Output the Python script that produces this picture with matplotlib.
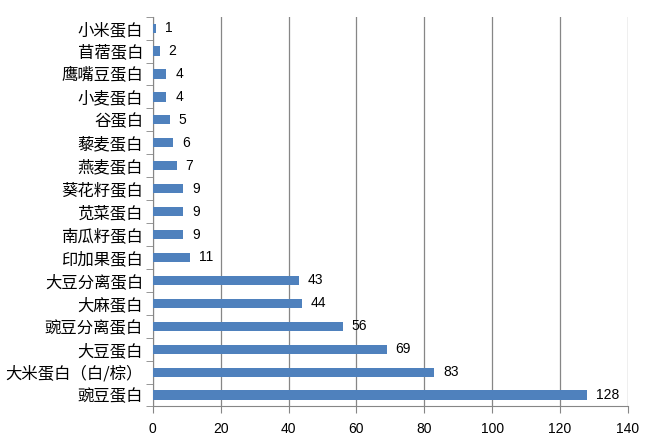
import matplotlib
matplotlib.use("Agg")
import matplotlib.pyplot as plt
import numpy as np

plt.rcParams['font.family'] = ['Noto Sans CJK SC', 'DejaVu Sans']

proteins = ["小米蛋白", "苜蓿蛋白", "鹰嘴豆蛋白", "小麦蛋白", "谷蛋白", "藜麦蛋白",
            "燕麦蛋白", "葵花籽蛋白", "苋菜蛋白", "南瓜籽蛋白", "印加果蛋白",
            "大豆分离蛋白", "大麻蛋白", "豌豆分离蛋白", "大豆蛋白", "大米蛋白（白/棕）",
            "豌豆蛋白"]
values = [1, 2, 4, 4, 5, 6, 7, 9, 9, 9, 11, 43, 44, 56, 69, 83, 128]
x_ticks = [0, 20, 40, 60, 80, 100, 120, 140]

bar_color = "#4F81BD"
axis_color = "#868686"

fig = plt.figure(figsize=(6.56, 4.43), dpi=100)
ax = fig.add_axes([0.233, 0.0824, 0.724, 0.880])

n = len(proteins)
ypos = np.arange(n)[::-1]
ax.barh(ypos, values, height=0.4, color=bar_color, zorder=3)

for y, v in zip(ypos, values):
    ax.text(v + 2.6, y, str(v), va="center", ha="left", fontsize=10,
            family=["Liberation Sans", "DejaVu Sans"], color="black")

ax.set_xlim(0, 140)
ax.set_ylim(-0.5, n - 0.5)
ax.set_xticks(x_ticks)
ax.set_xticklabels([str(t) for t in x_ticks], family=["Liberation Sans", "DejaVu Sans"], fontsize=10)
ax.set_yticks(ypos)
ax.set_yticklabels(proteins, fontsize=11.8)
ax.set_yticks(np.arange(-0.5, n, 1), minor=True)
ax.tick_params(axis="y", which="major", length=0, pad=7)
ax.tick_params(axis="y", which="minor", length=5, color=axis_color)
ax.tick_params(axis="x", which="major", length=5, color=axis_color, pad=6)

ax.grid(axis="x", color=axis_color, linewidth=0.9, zorder=0)
for side in ["top", "right"]:
    ax.spines[side].set_visible(False)
ax.spines["left"].set_color(axis_color)
ax.spines["bottom"].set_color(axis_color)

fig.savefig("out.png", dpi=100)
